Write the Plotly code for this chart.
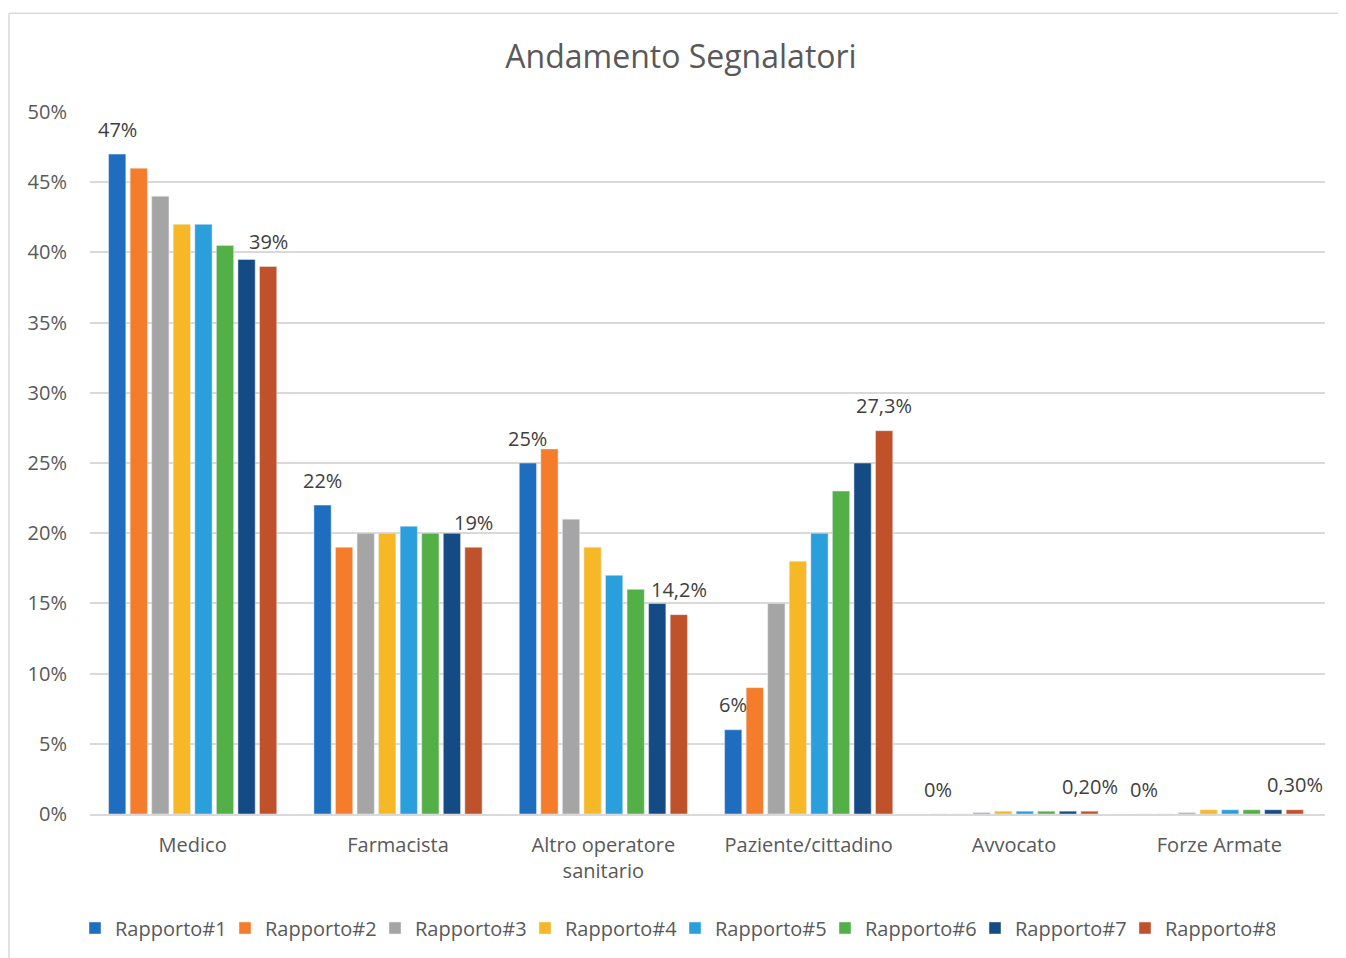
import plotly.graph_objects as go

categories = ['Medico', 'Farmacista', 'Altro operatore<br>sanitario',
              'Paziente/cittadino', 'Avvocato', 'Forze Armate']
series_names = ['Rapporto#1', 'Rapporto#2', 'Rapporto#3', 'Rapporto#4',
                'Rapporto#5', 'Rapporto#6', 'Rapporto#7', 'Rapporto#8']

r1 = [47, 22, 25, 6, 0, 0]
r2 = [46, 19, 26, 9, 0, 0]
r3 = [44, 20, 21, 15, 0.1, 0.1]
r4 = [42, 20, 19, 18, 0.2, 0.3]
r5 = [42, 20.5, 17, 20, 0.2, 0.3]
r6 = [40.5, 20, 16, 23, 0.2, 0.3]
r7 = [39.5, 20, 15, 25, 0.2, 0.3]
r8 = [39, 19, 14.2, 27.3, 0.2, 0.3]

labels_r1 = ['47%', '22%', '25%', '6%', '0%', '0%']
labels_r8 = ['39%', '19%', '14,2%', '27,3%', '0,20%', '0,30%']

y_ticks = [0, 5, 10, 15, 20, 25, 30, 35, 40, 45, 50]
y_tick_text = [f'{v}%' for v in y_ticks]

colors = ['#1F6DBF', '#F47C2A', '#A5A5A5', '#F6B826',
          '#2A9FDB', '#52B047', '#154B85', '#C0522B']

FONT = 'Open Sans, Noto Sans, sans-serif'

# page body adds an 8px offset, so the figure is drawn 8px smaller
W, H = 1338, 950
L, R, T, B = 82, 21, 104, 143
PW, PH = W - L - R, H - T - B
BARGAP = 0.16

fig = go.Figure()
all_series = [r1, r2, r3, r4, r5, r6, r7, r8]
for i, (name, vals) in enumerate(zip(series_names, all_series)):
    fig.add_trace(go.Bar(
        x=categories,
        y=vals,
        name=name,
        marker_color=colors[i],
        cliponaxis=False,
    ))

# data labels above first and last bar of every group
n = len(all_series)
slot = PW / len(categories) * (1 - BARGAP) / n
annotations = []
for idx, (vals, labels) in [(0, (r1, labels_r1)), (n - 1, (r8, labels_r8))]:
    for c, v, t in zip(categories, vals, labels):
        annotations.append(dict(
            x=c, y=v, text=t, showarrow=False,
            xanchor='center', yanchor='middle',
            xshift=(idx - (n - 1) / 2) * slot, yshift=25,
            font=dict(size=20, color='#404040', family=FONT),
        ))

fig.update_layout(
    width=W,
    height=H,
    barmode='group',
    bargap=BARGAP,
    bargroupgap=0.2,
    paper_bgcolor='white',
    plot_bgcolor='white',
    font=dict(family=FONT, color='#595959', size=20),
    title=dict(text='Andamento Segnalatori', x=0.503, xref='container',
               xanchor='center', y=1 - 49 / H, yanchor='middle',
               font=dict(size=32, color='#595959', family=FONT)),
    margin=dict(l=L, r=R, t=T, b=B),
    annotations=annotations,
    legend=dict(orientation='h', x=(67 - L) / PW, xanchor='left',
                y=(PH - (920 - T)) / PH, yanchor='middle',
                font=dict(size=20, color='#595959'),
                entrywidth=105, entrywidthmode='pixels',
                itemwidth=30, traceorder='normal', itemclick=False),
    xaxis=dict(showgrid=False, showline=True, linecolor='#D9D9D9',
               linewidth=2, ticks='', tickfont=dict(size=20),
               ticklabelstandoff=12),
    yaxis=dict(range=[0, 50], tickvals=y_ticks, ticktext=y_tick_text,
               showgrid=True, gridcolor='#D9D9D9', gridwidth=1.5,
               zeroline=False, showline=False, ticks='',
               ticklabelstandoff=22, tickfont=dict(size=20)),
    shapes=[
        dict(type='line', xref='paper', yref='paper',
             x0=(1 - L) / PW, x1=(1 - L) / PW,
             y0=(PH + T - 5) / PH, y1=(PH + T - H - 5) / PH,
             line=dict(color='#D9D9D9', width=1.5)),
        dict(type='line', xref='paper', yref='paper',
             x0=(1 - L) / PW, x1=(W + 5 - L) / PW,
             y0=(PH + T - 5) / PH, y1=(PH + T - 5) / PH,
             line=dict(color='#D9D9D9', width=1.5)),
    ],
)

fig.write_html('out.html')
